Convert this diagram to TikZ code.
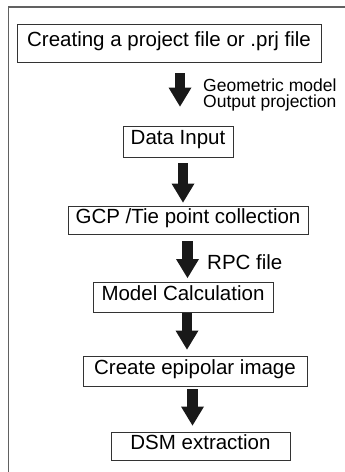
\documentclass[tikz,border=0pt]{standalone}
\usepackage{fontspec}
\setmainfont{Liberation Sans}
\usetikzlibrary{arrows.meta}
\begin{document}
\begin{tikzpicture}[x=1pt,y=-1pt,
  stepbox/.style={draw=black!80, line width=0.9pt, inner sep=0pt,
    font=\fontsize{20.5}{24}\selectfont, text height=0.716em, text depth=0.1em},
  bigarrow/.style={line width=10.5pt, black!90,
    -{Triangle[width=23pt,length=19pt,line width=0pt]}},
  lab/.style={inner sep=0pt, anchor=base west},
  frameline/.style={draw=black!62, line width=1.6pt}
]
\useasboundingbox (0,0) rectangle (345,472);
\draw[frameline] (345,6.7) -- (8.3,6.7) -- (8.3,472);

\node[stepbox, minimum width=304pt, minimum height=38pt] (b1) at (169,43) {Creating a project file or .prj file};
\node[stepbox, minimum width=110pt, minimum height=31pt] (b2) at (178,141.5) {Data Input};
\node[stepbox, minimum width=240pt, minimum height=28pt] (b3) at (188,220) {GCP /Tie point collection};
\node[stepbox, minimum width=180pt, minimum height=30pt] (b4) at (183,297) {Model Calculation};
\node[stepbox, minimum width=224pt, minimum height=30pt] (b5) at (195,371) {Create epipolar image};
\node[stepbox, minimum width=179pt, minimum height=28pt] (b6) at (200.5,446) {DSM extraction};

\draw[bigarrow] ([xshift=11pt,yshift=-11pt]b1.south) -- ([xshift=2pt,yshift=19pt]b2.north);
\draw[bigarrow] ([xshift=5pt,yshift=-6pt]b2.south) -- ([xshift=-5pt,yshift=3pt]b3.north);
\draw[bigarrow] ([xshift=-0.5pt,yshift=-7pt]b3.south) -- ([xshift=4.5pt,yshift=3.5pt]b4.north);
\draw[bigarrow] ([xshift=4pt,yshift=-1pt]b4.south) -- ([xshift=-8pt,yshift=6pt]b5.north);
\draw[bigarrow] ([xshift=-2.5pt,yshift=-3pt]b5.south) -- ([xshift=-8pt,yshift=6pt]b6.north);

\node[lab, font=\fontsize{17.5}{20}\selectfont] (l1) at (203,91) {Geometric model};
\node[lab, font=\fontsize{17.5}{20}\selectfont] (l2) at (203,107) {Output projection};
\node[lab, font=\fontsize{20.5}{24}\selectfont] (l3) at (207,269) {RPC file};
\end{tikzpicture}
\end{document}
